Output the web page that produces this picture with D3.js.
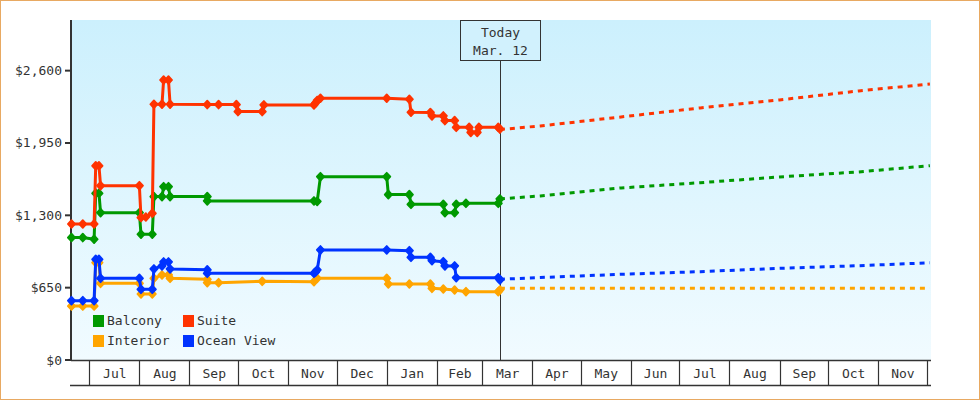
<!DOCTYPE html>
<html>
<head>
<meta charset="utf-8">
<script src="https://cdn.jsdelivr.net/npm/d3@7/dist/d3.min.js"></script>
<style>
  html, body { margin: 0; padding: 0; background: #fff; }
  svg { display: block; }
  text { font-family: "DejaVu Sans Mono", monospace; font-size: 13px; fill: #333; }
</style>
</head>
<body>
<svg id="chart" width="980" height="400"></svg>
<script>
// ---- data ----
const seriesNames = ["Balcony", "Suite", "Interior", "Ocean View"];
const seriesColors = ["#009900", "#ff3300", "#ffa500", "#0033ff"];
const yTicks = [0, 650, 1300, 1950, 2600];
const todayDate = "2023-03-12";
const todayLabel = ["Today", "Mar. 12"];

const balcony = [
  ["2022-06-20",1100],["2022-06-27",1100],["2022-07-04",1085],["2022-07-05",1498],["2022-07-07",1498],
  ["2022-07-08",1324],["2022-08-01",1324],["2022-08-02",1130],["2022-08-09",1130],["2022-08-10",1468],
  ["2022-08-15",1468],["2022-08-16",1557],["2022-08-19",1557],["2022-08-20",1468],["2022-09-12",1468],
  ["2022-09-12",1429],["2022-11-17",1429],["2022-11-19",1425],["2022-11-21",1647],["2023-01-01",1647],
  ["2023-01-02",1486],["2023-01-15",1486],["2023-01-16",1399],["2023-02-05",1399],["2023-02-06",1324],
  ["2023-02-12",1324],["2023-02-13",1399],["2023-02-19",1408],["2023-03-11",1408],["2023-03-12",1447]
];
const suite = [
  ["2022-06-20",1222],["2022-06-27",1222],["2022-07-04",1222],["2022-07-05",1745],["2022-07-07",1745],
  ["2022-07-08",1566],["2022-08-01",1566],["2022-08-02",1280],["2022-08-05",1285],["2022-08-09",1318],
  ["2022-08-10",2298],["2022-08-15",2298],["2022-08-16",2516],["2022-08-19",2516],["2022-08-20",2298],
  ["2022-09-12",2295],["2022-09-19",2295],["2022-09-30",2295],["2022-10-01",2232],["2022-10-16",2232],
  ["2022-10-17",2292],["2022-11-17",2292],["2022-11-18",2310],["2022-11-19",2332],["2022-11-21",2352],
  ["2023-01-01",2352],["2023-01-15",2343],["2023-01-16",2226],["2023-01-28",2224],["2023-01-29",2193],
  ["2023-02-05",2193],["2023-02-06",2151],["2023-02-12",2151],["2023-02-13",2091],["2023-02-21",2091],
  ["2023-02-22",2045],["2023-02-26",2045],["2023-02-27",2091],["2023-03-11",2091],["2023-03-12",2075]
];
const interior = [
  ["2022-06-20",485],["2022-06-27",485],["2022-07-04",485],["2022-07-05",874],["2022-07-07",874],
  ["2022-07-08",689],["2022-08-01",689],["2022-08-02",593],["2022-08-09",593],["2022-08-10",734],
  ["2022-08-15",764],["2022-08-19",764],["2022-08-20",734],["2022-09-12",725],["2022-09-12",695],
  ["2022-09-19",695],["2022-10-16",707],["2022-11-17",704],["2022-11-19",734],["2023-01-01",734],
  ["2023-01-02",683],["2023-01-15",683],["2023-01-28",683],["2023-01-29",644],["2023-02-05",638],
  ["2023-02-12",629],["2023-02-19",614],["2023-03-11",614],["2023-03-12",629]
];
const oceanView = [
  ["2022-06-20",533],["2022-06-27",533],["2022-07-04",533],["2022-07-05",905],["2022-07-07",905],
  ["2022-07-08",734],["2022-08-01",734],["2022-08-02",635],["2022-08-09",635],["2022-08-10",818],
  ["2022-08-15",845],["2022-08-16",881],["2022-08-19",881],["2022-08-20",818],["2022-09-12",810],
  ["2022-09-12",779],["2022-11-17",779],["2022-11-18",790],["2022-11-19",809],["2022-11-21",989],
  ["2023-01-01",989],["2023-01-15",982],["2023-01-16",923],["2023-01-28",923],["2023-01-29",892],
  ["2023-02-05",883],["2023-02-06",845],["2023-02-12",845],["2023-02-13",740],["2023-03-11",740],
  ["2023-03-12",719]
];

const forecastDates = ["2023-03-12","2023-04-06","2023-05-26","2023-07-14","2023-09-01","2023-10-20","2023-12-03"];
const balconyForecast  = [1447, 1474, 1546, 1593, 1645, 1690, 1746];
const suiteForecast    = [2071, 2103, 2184, 2265, 2337, 2418, 2480];
const interiorForecast = [644, 644, 644, 644, 644, 644, 644];
const oceanForecast    = [725, 741, 770, 794, 824, 847, 874];

// ---- chart ----
const parse = d3.timeParse("%Y-%m-%d");
const svg = d3.select("#chart");
const W = 980, H = 400;
const L = 71, R = 931, T = 20, B = 360, AXB = 385;

const x = d3.scaleTime()
  .domain([new Date(2022, 5, 19, 17), new Date(2023, 11, 3, 16)])
  .range([L, R]);
const y = d3.scaleLinear().domain([0, 3055]).range([B, T]);

// outer border
svg.append("rect").attr("x", 0.5).attr("y", 0.5).attr("width", W - 1).attr("height", H - 1)
  .attr("fill", "#fff").attr("stroke", "#e8a962").attr("stroke-width", 1);

// gradient background
const defs = svg.append("defs");
const grad = defs.append("linearGradient").attr("id", "bg").attr("x1", 0).attr("y1", 0).attr("x2", 0).attr("y2", 1);
grad.append("stop").attr("offset", "0%").attr("stop-color", "#ccf0fd");
grad.append("stop").attr("offset", "100%").attr("stop-color", "#f1fbff");
svg.append("rect").attr("x", L).attr("y", T).attr("width", R - L).attr("height", B - T).attr("fill", "url(#bg)");

// x axis cells
const months = d3.timeMonth.range(x.domain()[0], x.domain()[1]);
const bounds = [x.domain()[0], ...months, x.domain()[1]];
const xg = svg.append("g").attr("class", "x-axis");
xg.append("line").attr("x1", L).attr("x2", R).attr("y1", B + 0.5).attr("y2", B + 0.5)
  .attr("stroke", "#333").attr("stroke-width", 1.5);
xg.append("line").attr("x1", L - 1).attr("x2", R).attr("y1", AXB + 0.5).attr("y2", AXB + 0.5)
  .attr("stroke", "#333").attr("stroke-width", 1.5);
xg.selectAll("line.sep").data(months).join("line").attr("class", "sep")
  .attr("x1", d => Math.round(x(d)) + 0.5).attr("x2", d => Math.round(x(d)) + 0.5)
  .attr("y1", B).attr("y2", AXB).attr("stroke", "#333").attr("stroke-width", 1.2);
const cells = d3.pairs(bounds).filter(p => x(p[1]) - x(p[0]) > 30);
const fmt = d3.timeFormat("%b");
xg.selectAll("text").data(cells).join("text")
  .attr("x", p => (x(p[0]) + x(p[1])) / 2 + 0.5)
  .attr("y", 378)
  .attr("text-anchor", "middle")
  .text(p => fmt(p[0]));

// y axis
const yg = svg.append("g").attr("class", "y-axis");
yg.append("line").attr("x1", L).attr("x2", L).attr("y1", T).attr("y2", B)
  .attr("stroke", "#333").attr("stroke-width", 2);
yg.selectAll("line.tick").data(yTicks).join("line").attr("class", "tick")
  .attr("x1", L - 6).attr("x2", L).attr("y1", d => y(d)).attr("y2", d => y(d))
  .attr("stroke", "#333").attr("stroke-width", 2);
const yFmt = d3.format("$,");
yg.selectAll("text").data(yTicks).join("text")
  .attr("x", 62).attr("y", d => y(d) + 4.5)
  .attr("text-anchor", "end")
  .text(d => yFmt(d));

// today marker
const tx = Math.round(x(parse(todayDate))) + 0.5;
svg.append("line").attr("x1", tx).attr("x2", tx).attr("y1", 60).attr("y2", B)
  .attr("stroke", "#333").attr("stroke-width", 1);
svg.append("rect").attr("x", tx - 40).attr("y", 20.5).attr("width", 80).attr("height", 40)
  .attr("fill", "#d1f1fd").attr("stroke", "#333").attr("stroke-width", 1);
svg.append("text").attr("x", tx).attr("y", 37).attr("text-anchor", "middle").text(todayLabel[0]);
svg.append("text").attr("x", tx).attr("y", 55).attr("text-anchor", "middle").text(todayLabel[1]);

// series
const actual = [balcony, suite, interior, oceanView];
const forecasts = [balconyForecast, suiteForecast, interiorForecast, oceanForecast];
const drawOrder = [0, 2, 1, 3];
const line = d3.line().x(d => x(d[0])).y(d => y(d[1]));
const diamond = "M0,-3.9L3.6,0L0,3.9L-3.6,0Z";

drawOrder.forEach(i => {
  const color = seriesColors[i];
  const fpts = forecastDates.map((d, k) => [parse(d), forecasts[i][k]]);
  svg.append("path").datum(fpts).attr("d", line)
    .attr("fill", "none").attr("stroke", color).attr("stroke-width", 3)
    .attr("stroke-dasharray", "5,5").attr("stroke-dashoffset", -10);
});
drawOrder.forEach(i => {
  const color = seriesColors[i];
  const pts = actual[i].map(d => [parse(d[0]), d[1]]);
  const g = svg.append("g");
  g.append("path").datum(pts).attr("d", line)
    .attr("fill", "none").attr("stroke", color).attr("stroke-width", 3)
    .attr("stroke-linejoin", "round");
  g.selectAll("path.m").data(pts).join("path").attr("class", "m")
    .attr("d", diamond)
    .attr("transform", d => `translate(${x(d[0])},${y(d[1])})`)
    .attr("fill", color).attr("stroke", color).attr("stroke-width", 1.8)
    .attr("stroke-linejoin", "round");
});

// legend
const legendPos = [[93, 315], [183, 315], [93, 335], [183, 335]];
const lg = svg.append("g").attr("class", "legend");
seriesNames.forEach((name, i) => {
  const [lx, ly] = legendPos[i];
  lg.append("rect").attr("x", lx).attr("y", ly).attr("width", 11).attr("height", 12).attr("fill", seriesColors[i]);
  lg.append("text").attr("x", lx + 14).attr("y", ly + 10).text(name);
});
</script>
</body>
</html>
